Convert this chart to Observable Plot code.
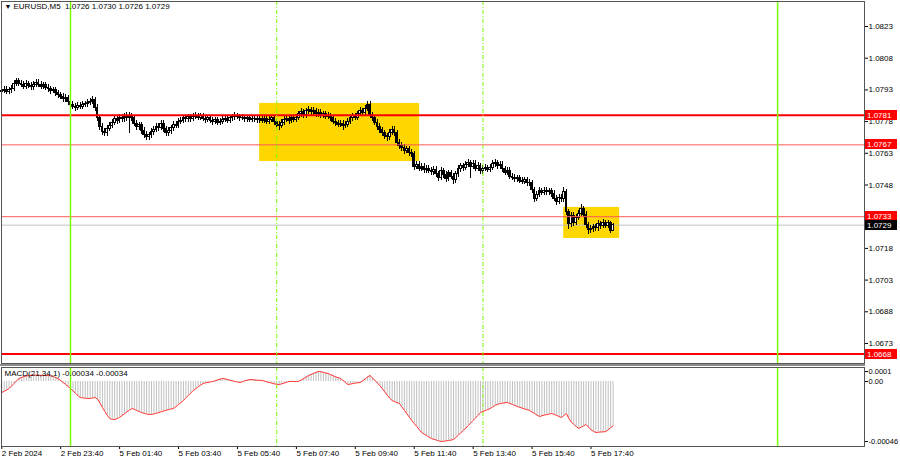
<!DOCTYPE html>
<html>
<head>
<meta charset="utf-8">
<script src="https://cdn.jsdelivr.net/npm/d3@7"></script>
<script src="https://cdn.jsdelivr.net/npm/@observablehq/plot@0.6"></script>
<style>
  html, body { margin: 0; padding: 0; background: #fff; }
  #wrap { position: relative; width: 900px; height: 460px; overflow: hidden; background: #fff; font-family: "Liberation Sans", Arial, sans-serif; }
  #main, #macd { position: absolute; left: 0; }
  #main { top: 0; }
  #sep { position: absolute; left: 0; top: 364px; width: 865px; height: 2px; background: #8c8c8c; }
  #macd { top: 366px; }
</style>
</head>
<body>
<div id="wrap"><div id="main"></div><div id="sep"></div><div id="macd"></div></div>
<script>
// ---- header texts ----
const symbol = "EURUSD,M5";
const lastOHLC = ["1.0726", "1.0730", "1.0726", "1.0729"];
const macdTitle = "MACD(21,34,1) -0.00034 -0.00034";

// ---- price axis ticks ----
const priceTicks = [1.0823, 1.0808, 1.0793, 1.0778, 1.0763, 1.0748, 1.0733, 1.0718, 1.0703, 1.0688, 1.0673];

// ---- time axis labels (M5 bars, index of labelled bar) ----
const timeLabelBars = [0, 24, 48, 72, 96, 120, 144, 168, 192, 216, 240];
const timeLabels = ["2 Feb 2024", "2 Feb 23:40", "5 Feb 01:40", "5 Feb 03:40", "5 Feb 05:40", "5 Feb 07:40",
  "5 Feb 09:40", "5 Feb 11:40", "5 Feb 13:40", "5 Feb 15:40", "5 Feb 17:40"];
const mondayBar = 28; // first bar of 5 Feb 00:00 (weekend collapsed)

// ---- horizontal levels ----
const levelPrices = [1.0781, 1.0767, 1.0733, 1.0668];
const levelWidths = [2, 1, 1, 2];
const currentPrice = 1.0729;

// ---- vertical day / session lines (hours from 5 Feb 00:00) ----
const daySeparators = [0, 24];
const sessionLines = [7, 14];

// ---- yellow zones ----
const zoneStart = [6.42, 16.74];
const zoneEnd = [11.85, 18.64];
const zoneTop = [1.07866, 1.07374];
const zoneBottom = [1.07591, 1.07227];

// ---- M5 candles ----
const firstOpen = 1.07920;
const closes = [
1.07925,1.07930,1.07920,1.07928,1.07935,1.07960,1.07970,1.07960,1.07955,1.07945,
1.07958,1.07950,1.07942,1.07955,1.07964,1.07955,1.07946,1.07952,1.07940,1.07932,
1.07925,1.07928,1.07914,1.07905,1.07898,1.07885,1.07890,1.07872,1.07860,1.07850,
1.07846,1.07854,1.07850,1.07858,1.07862,1.07868,1.07875,1.07882,1.07845,1.07795,
1.07755,1.07730,1.07725,1.07745,1.07760,1.07775,1.07790,1.07782,1.07798,1.07790,
1.07802,1.07795,1.07805,1.07798,1.07770,1.07755,1.07762,1.07735,1.07718,1.07705,
1.07715,1.07730,1.07742,1.07755,1.07750,1.07770,1.07745,1.07725,1.07735,1.07748,
1.07765,1.07760,1.07778,1.07785,1.07795,1.07790,1.07800,1.07792,1.07802,1.07806,
1.07798,1.07805,1.07794,1.07788,1.07795,1.07785,1.07778,1.07786,1.07775,1.07780,
1.07788,1.07792,1.07785,1.07795,1.07800,1.07808,1.07802,1.07796,1.07798,1.07790,
1.07795,1.07788,1.07794,1.07790,1.07786,1.07792,1.07785,1.07794,1.07780,1.07788,
1.07795,1.07778,1.07765,1.07760,1.07775,1.07788,1.07792,1.07782,1.07796,1.07788,
1.07798,1.07815,1.07825,1.07810,1.07828,1.07836,1.07824,1.07830,1.07815,1.07822,
1.07808,1.07814,1.07802,1.07806,1.07795,1.07780,1.07772,1.07765,1.07770,1.07758,
1.07766,1.07780,1.07795,1.07805,1.07798,1.07815,1.07828,1.07820,1.07840,1.07860,
1.07810,1.07795,1.07775,1.07755,1.07740,1.07725,1.07710,1.07705,1.07725,1.07740,
1.07725,1.07680,1.07665,1.07655,1.07640,1.07648,1.07632,1.07625,1.07565,1.07575,
1.07558,1.07566,1.07550,1.07558,1.07548,1.07540,1.07552,1.07530,1.07515,1.07545,
1.07528,1.07508,1.07535,1.07520,1.07502,1.07530,1.07555,1.07568,1.07560,1.07575,
1.07582,1.07565,1.07580,1.07558,1.07570,1.07545,1.07556,1.07560,1.07552,1.07560,
1.07578,1.07582,1.07568,1.07575,1.07555,1.07538,1.07548,1.07520,1.07515,1.07508,
1.07512,1.07500,1.07495,1.07502,1.07488,1.07490,1.07455,1.07415,1.07435,1.07450,
1.07442,1.07452,1.07445,1.07450,1.07438,1.07415,1.07400,1.07420,1.07412,1.07445,
1.07350,1.07295,1.07335,1.07300,1.07325,1.07345,1.07365,1.07340,1.07290,1.07265,
1.07270,1.07280,1.07275,1.07295,1.07285,1.07300,1.07288,1.07298,1.07260,1.07290];
const highs = [
1.07942,1.07946,1.07944,1.07943,1.07952,1.07976,1.07986,1.07983,1.07975,1.07969,
1.07973,1.07971,1.07963,1.07969,1.07980,1.07977,1.07968,1.07967,1.07964,1.07954,
1.07945,1.07943,1.07940,1.07928,1.07920,1.07911,1.07906,1.07903,1.07886,1.07874,
1.07865,1.07869,1.07868,1.07873,1.07877,1.07883,1.07890,1.07898,1.07896,1.07860,
1.07810,1.07770,1.07748,1.07760,1.07776,1.07790,1.07806,1.07805,1.07814,1.07812,
1.07818,1.07825,1.07822,1.07819,1.07811,1.07784,1.07778,1.07775,1.07750,1.07733,
1.07730,1.07745,1.07758,1.07772,1.07770,1.07786,1.07783,1.07759,1.07750,1.07763,
1.07780,1.07780,1.07793,1.07800,1.07810,1.07810,1.07815,1.07814,1.07817,1.07823,
1.07820,1.07820,1.07818,1.07808,1.07810,1.07808,1.07799,1.07800,1.07799,1.07794,
1.07802,1.07807,1.07805,1.07810,1.07815,1.07824,1.07820,1.07815,1.07813,1.07811,
1.07810,1.07808,1.07809,1.07808,1.07804,1.07807,1.07805,1.07809,1.07807,1.07803,
1.07810,1.07808,1.07792,1.07780,1.07790,1.07803,1.07808,1.07805,1.07811,1.07810,
1.07813,1.07830,1.07842,1.07838,1.07844,1.07853,1.07849,1.07846,1.07843,1.07837,
1.07835,1.07829,1.07827,1.07821,1.07819,1.07808,1.07794,1.07786,1.07785,1.07783,
1.07781,1.07795,1.07810,1.07820,1.07820,1.07830,1.07845,1.07843,1.07856,1.07876,
1.07875,1.07824,1.07809,1.07789,1.07769,1.07754,1.07739,1.07726,1.07742,1.07758,
1.07755,1.07739,1.07694,1.07680,1.07670,1.07664,1.07661,1.07647,1.07639,1.07591,
1.07589,1.07582,1.07580,1.07574,1.07572,1.07562,1.07568,1.07566,1.07544,1.07561,
1.07559,1.07542,1.07550,1.07549,1.07534,1.07546,1.07571,1.07584,1.07582,1.07591,
1.07599,1.07596,1.07596,1.07594,1.07586,1.07584,1.07571,1.07576,1.07574,1.07575,
1.07594,1.07600,1.07596,1.07591,1.07589,1.07569,1.07563,1.07561,1.07535,1.07529,
1.07527,1.07525,1.07514,1.07517,1.07515,1.07505,1.07503,1.07469,1.07450,1.07466,
1.07464,1.07467,1.07466,1.07465,1.07463,1.07452,1.07429,1.07435,1.07434,1.07470,
1.07459,1.07364,1.07350,1.07349,1.07341,1.07361,1.07388,1.07379,1.07354,1.07304,
1.07286,1.07295,1.07294,1.07311,1.07309,1.07316,1.07313,1.07313,1.07305,1.07300];
const lows = [
1.07905,1.07911,1.07906,1.07908,1.07915,1.07923,1.07946,1.07944,1.07940,1.07930,
1.07932,1.07936,1.07928,1.07929,1.07942,1.07941,1.07932,1.07933,1.07926,1.07918,
1.07910,1.07911,1.07900,1.07890,1.07883,1.07870,1.07871,1.07857,1.07844,1.07835,
1.07830,1.07832,1.07836,1.07837,1.07845,1.07849,1.07854,1.07861,1.07830,1.07780,
1.07738,1.07714,1.07708,1.07710,1.07731,1.07746,1.07760,1.07767,1.07769,1.07775,
1.07776,1.07780,1.07725,1.07782,1.07755,1.07740,1.07740,1.07720,1.07702,1.07690,
1.07692,1.07700,1.07716,1.07729,1.07735,1.07736,1.07730,1.07708,1.07710,1.07721,
1.07734,1.07745,1.07747,1.07764,1.07771,1.07776,1.07777,1.07778,1.07779,1.07789,
1.07784,1.07785,1.07780,1.07773,1.07775,1.07771,1.07763,1.07765,1.07760,1.07761,
1.07767,1.07775,1.07771,1.07772,1.07782,1.07787,1.07788,1.07782,1.07783,1.07776,
1.07777,1.07774,1.07775,1.07776,1.07772,1.07773,1.07770,1.07772,1.07766,1.07767,
1.07775,1.07763,1.07750,1.07740,1.07747,1.07762,1.07774,1.07768,1.07769,1.07774,
1.07775,1.07785,1.07801,1.07795,1.07797,1.07814,1.07810,1.07810,1.07800,1.07801,
1.07793,1.07794,1.07788,1.07789,1.07780,1.07766,1.07758,1.07750,1.07751,1.07740,
1.07745,1.07753,1.07767,1.07781,1.07784,1.07785,1.07802,1.07805,1.07807,1.07826,
1.07795,1.07780,1.07760,1.07740,1.07725,1.07710,1.07694,1.07685,1.07692,1.07712,
1.07710,1.07664,1.07650,1.07640,1.07625,1.07627,1.07617,1.07610,1.07550,1.07551,
1.07543,1.07544,1.07535,1.07536,1.07533,1.07525,1.07526,1.07515,1.07498,1.07502,
1.07512,1.07492,1.07495,1.07505,1.07484,1.07489,1.07517,1.07541,1.07545,1.07547,
1.07561,1.07510,1.07551,1.07543,1.07544,1.07530,1.07531,1.07542,1.07537,1.07539,
1.07547,1.07564,1.07553,1.07554,1.07540,1.07523,1.07524,1.07505,1.07500,1.07493,
1.07494,1.07485,1.07480,1.07481,1.07473,1.07474,1.07440,1.07398,1.07401,1.07422,
1.07428,1.07429,1.07431,1.07432,1.07423,1.07400,1.07385,1.07387,1.07398,1.07399,
1.07335,1.07270,1.07281,1.07285,1.07287,1.07311,1.07331,1.07325,1.07275,1.07245,
1.07250,1.07256,1.07260,1.07262,1.07270,1.07272,1.07273,1.07274,1.07250,1.07260];

// ---- MACD(21,34,1) per bar ----
const macdValues = [
-8.5e-5,-7.5e-5,-6.5e-5,-5.4e-5,-3.5e-5,-1.5e-5,0.5e-5,2.3e-5,3.0e-5,3.8e-5,
4.3e-5,4.6e-5,4.8e-5,5.0e-5,4.9e-5,4.8e-5,4.7e-5,4.8e-5,4.6e-5,4.5e-5,
4.4e-5,3.8e-5,3.0e-5,2.0e-5,0.8e-5,-0.8e-5,-2.2e-5,-3.8e-5,-5.4e-5,-7.2e-5,
-9.0e-5,-10.8e-5,-12.3e-5,-12.6e-5,-12.8e-5,-13.0e-5,-13.0e-5,-12.6e-5,-12.3e-5,-13.5e-5,
-16.5e-5,-19.9e-5,-23.0e-5,-26.0e-5,-28.4e-5,-29.0e-5,-29.1e-5,-28.5e-5,-27.4e-5,-26.1e-5,
-24.8e-5,-23.2e-5,-22.0e-5,-20.7e-5,-21.3e-5,-22.2e-5,-23.0e-5,-23.8e-5,-24.4e-5,-25.0e-5,
-25.2e-5,-25.3e-5,-24.8e-5,-24.3e-5,-23.8e-5,-23.2e-5,-22.6e-5,-22.0e-5,-21.5e-5,-21.0e-5,
-20.7e-5,-19.2e-5,-17.6e-5,-16.1e-5,-14.6e-5,-12.6e-5,-10.7e-5,-8.8e-5,-6.9e-5,-5.5e-5,
-4.1e-5,-2.8e-5,-1.5e-5,-1.0e-5,-0.6e-5,-0.3e-5,0,0.6e-5,1.2e-5,1.8e-5,
2.3e-5,2.0e-5,1.5e-5,1.0e-5,0.5e-5,0,-0.4e-5,-0.8e-5,-0.2e-5,0.5e-5,
1.0e-5,1.5e-5,1.4e-5,1.2e-5,1.0e-5,0.9e-5,0.8e-5,0.3e-5,-0.3e-5,-0.8e-5,
-1.3e-5,-1.8e-5,-2.1e-5,-2.3e-5,-1.8e-5,-1.2e-5,-0.6e-5,0,0.1e-5,0,
0,0.2e-5,1.2e-5,2.3e-5,3.5e-5,4.6e-5,5.4e-5,6.2e-5,7.0e-5,7.7e-5,
7.5e-5,7.0e-5,6.5e-5,6.1e-5,5.2e-5,4.4e-5,3.5e-5,2.9e-5,2.3e-5,0.8e-5,
-0.8e-5,-2.3e-5,-2.0e-5,-1.6e-5,-1.2e-5,-1.0e-5,-0.8e-5,0.5e-5,2.0e-5,3.5e-5,
4.6e-5,2.8e-5,0.8e-5,-1.2e-5,-3.1e-5,-5.5e-5,-8.0e-5,-10.5e-5,-12.8e-5,-14.6e-5,
-15.4e-5,-16.2e-5,-16.9e-5,-19.5e-5,-22.1e-5,-24.7e-5,-27.3e-5,-29.9e-5,-32.2e-5,-34.5e-5,
-36.8e-5,-39.1e-5,-40.3e-5,-41.4e-5,-42.6e-5,-43.7e-5,-44.3e-5,-44.9e-5,-45.5e-5,-46.0e-5,
-45.8e-5,-45.5e-5,-45.2e-5,-44.9e-5,-44.5e-5,-42.8e-5,-41.0e-5,-39.3e-5,-37.6e-5,-35.7e-5,
-33.8e-5,-31.8e-5,-29.9e-5,-27.9e-5,-25.9e-5,-23.8e-5,-23.0e-5,-22.3e-5,-21.5e-5,-20.7e-5,
-19.4e-5,-18.2e-5,-17.5e-5,-16.9e-5,-16.6e-5,-16.3e-5,-16.1e-5,-16.9e-5,-17.6e-5,-18.4e-5,
-19.2e-5,-19.8e-5,-20.4e-5,-21.0e-5,-21.6e-5,-22.2e-5,-23.4e-5,-24.5e-5,-25.7e-5,-26.8e-5,
-26.3e-5,-25.8e-5,-25.3e-5,-24.9e-5,-24.5e-5,-25.3e-5,-26.0e-5,-26.8e-5,-27.6e-5,-26.0e-5,
-24.5e-5,-28.5e-5,-31.0e-5,-33.0e-5,-34.5e-5,-36.0e-5,-35.0e-5,-34.0e-5,-33.0e-5,-35.0e-5,
-37.0e-5,-38.2e-5,-39.1e-5,-38.9e-5,-38.7e-5,-38.6e-5,-38.4e-5,-37.0e-5,-35.5e-5,-34.0e-5];
const macdTickValues = [0.000076, 0, -0.00046];
const macdTickLabels = ["0.0001", "0.00", "-0.00046"];

// ---- build tables ----
const barTime = i => (i - mondayBar) / 12; // hours from 5 Feb 00:00
const candles = closes.map((c, i) => ({
  t: barTime(i), open: i ? closes[i - 1] : firstOpen, close: c, high: highs[i], low: lows[i]
}));
const macd = macdValues.map((v, i) => ({t: barTime(i), v}));
const zones = zoneStart.map((s, i) => ({x1: s, x2: zoneEnd[i], y1: zoneBottom[i], y2: zoneTop[i]}));
const levels = levelPrices.map((p, i) => ({p, w: levelWidths[i]}));
const timeTicks = timeLabelBars.map(barTime);

const xDomain = [-2.342, 26.95];
const font = "'Liberation Sans', Arial, sans-serif";
const bodyHalf = 0.03;
const green = "#7cfc00";

// price tags drawn in the right margin using the y scale
function tags(list) {
  return (index, scales, values, dim) => {
    const g = d3.create("svg:g").attr("font-family", font).attr("font-size", 8).attr("text-anchor", "start");
    const x0 = dim.width - dim.marginRight + 1;
    for (const tg of list) {
      const y = Math.round(scales.y(tg.price));
      g.append("rect").attr("x", x0).attr("y", y - 5).attr("width", 32).attr("height", 10).attr("fill", tg.bg);
      g.append("text").attr("x", x0 + 2).attr("y", y).attr("dy", "0.35em").attr("fill", "#fff").text(tg.price.toFixed(4));
    }
    return g.node();
  };
}
const tagList = levelPrices.map(p => ({price: p, bg: "#ff0000"})).concat([{price: currentPrice, bg: "#000"}]);

const mainPlot = Plot.plot({
  width: 900, height: 364,
  marginLeft: 1, marginRight: 36, marginTop: 1, marginBottom: 1,
  style: {fontFamily: font, fontSize: "8px", color: "#000", background: "transparent", overflow: "visible"},
  x: {domain: xDomain, axis: null},
  y: {domain: [1.066353, 1.083483], axis: null},
  marks: [
    Plot.rect(zones, {x1: "x1", x2: "x2", y1: "y1", y2: "y2", fill: "#ffd700"}),
    Plot.ruleY([currentPrice], {stroke: "#c0c0c0", strokeWidth: 1}),
    Plot.ruleX(candles, {x: "t", y1: "low", y2: "high", stroke: "#000", strokeWidth: 1, shapeRendering: "crispEdges"}),
    Plot.rect(candles, {
      x1: d => d.t - bodyHalf, x2: d => d.t + bodyHalf, y1: "open", y2: "close",
      fill: d => d.close > d.open ? "#fff" : "#000", stroke: "#000", strokeWidth: 1, shapeRendering: "crispEdges"
    }),
    Plot.ruleY(levels, {y: "p", stroke: d => d.w > 1 ? "#ff0000" : "#ff5a5a", strokeWidth: "w"}),
    Plot.ruleX(daySeparators, {stroke: green, strokeWidth: 1.5}),
    Plot.ruleX(sessionLines, {stroke: green, strokeWidth: 1, strokeDasharray: "4,2,1,2"}),
    Plot.axisY({anchor: "right", label: null, ticks: priceTicks, tickFormat: d => d.toFixed(4), tickSize: 3, tickPadding: 1, fontSize: 8}),
    Plot.frame({stroke: "#555"}),
    Plot.text(["▼"], {frameAnchor: "top-left", dx: 3, dy: 3, fontSize: 7, textAnchor: "start"}),
    Plot.text([symbol + "  " + lastOHLC.join(" ")], {frameAnchor: "top-left", dx: 12, dy: 2, fontSize: 8, textAnchor: "start"}),
    tags(tagList)
  ]
});
document.getElementById("main").appendChild(mainPlot);

const macdPlot = Plot.plot({
  width: 900, height: 94,
  marginLeft: 1, marginRight: 36, marginTop: 1, marginBottom: 14,
  style: {fontFamily: font, fontSize: "8px", color: "#000", background: "transparent", overflow: "visible"},
  x: {domain: xDomain, axis: null},
  y: {domain: [-4.983e-4, 1.0733e-4], axis: null},
  marks: [
    Plot.ruleX(macd, {x: "t", y1: 0, y2: "v", stroke: "#c0c0c0", strokeWidth: 1}),
    Plot.line(macd, {x: "t", y: "v", stroke: "#ff3030", strokeWidth: 1}),
    Plot.ruleX(daySeparators, {stroke: green, strokeWidth: 1.5}),
    Plot.ruleX(sessionLines, {stroke: green, strokeWidth: 1, strokeDasharray: "4,2,1,2"}),
    Plot.axisY({anchor: "right", label: null, ticks: macdTickValues, tickFormat: d => macdTickLabels[macdTickValues.indexOf(d)], tickSize: 3, tickPadding: 1, fontSize: 7.5}),
    Plot.axisX({anchor: "bottom", label: null, ticks: timeTicks, tickFormat: d => timeLabels[timeTicks.indexOf(d)], tickSize: 3, tickPadding: 1, textAnchor: "start", fontSize: 8}),
    Plot.frame({stroke: "#555"}),
    Plot.text([macdTitle], {frameAnchor: "top-left", dx: 3, dy: 3, fontSize: 8, textAnchor: "start"})
  ]
});
document.getElementById("macd").appendChild(macdPlot);
</script>
</body>
</html>
